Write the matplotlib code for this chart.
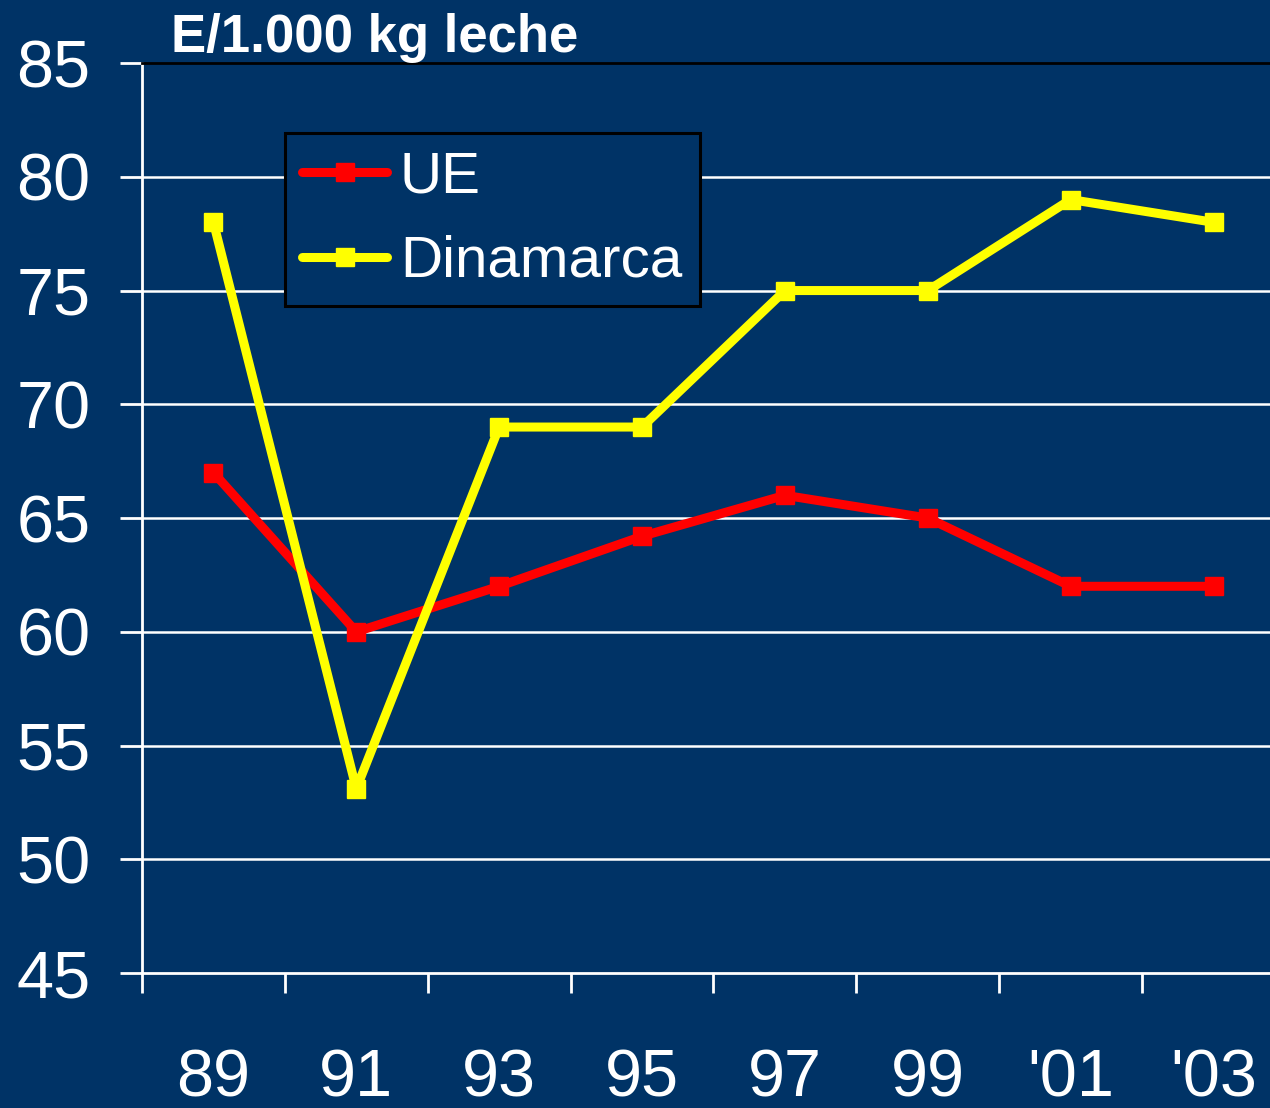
import matplotlib.pyplot as plt
import numpy as np

plt.rcParams['font.family'] = ['Liberation Sans', 'DejaVu Sans']

years = ["89", "91", "93", "95", "97", "99", "'01", "'03"]
ue = [67, 60, 62, 64.2, 66, 65, 62, 62]
dinamarca = [78, 53.1, 69, 69, 75, 75, 79, 78]

bg = "#003366"

fig = plt.figure(figsize=(12.7, 11.08), dpi=100, facecolor=bg)
ax = fig.add_axes([0.1118, 0.1218, 0.9000, 0.8213], facecolor=bg)

x = np.arange(len(years))
ax.plot(x, ue, color="#ff0000", lw=6.5, marker="s", ms=13, label="UE", solid_capstyle="round")
ax.plot(x, dinamarca, color="#ffff00", lw=6.5, marker="s", ms=13, label="Dinamarca", solid_capstyle="round")

ax.set_xlim(-0.5, len(years) - 0.5)
ax.set_ylim(45, 85)
ax.set_yticks(range(45, 86, 5))
for v in range(50, 85, 5):
    ax.axhline(v, color="white", lw=1.8, zorder=0)

ax.set_xticks(x)
ax.set_xticklabels(years)
ax.set_xticks(np.arange(-0.5, len(years), 1), minor=True)
ax.tick_params(axis="x", which="major", length=0, pad=54, labelsize=48, colors="white")
ax.tick_params(axis="x", which="minor", length=14.5, width=2, color="white", direction="out")
ax.tick_params(axis="y", length=16, width=2, color="white", labelsize=48, labelcolor="white", pad=21)

ax.spines["left"].set_color("white")
ax.spines["left"].set_linewidth(2)
ax.spines["bottom"].set_color("white")
ax.spines["bottom"].set_linewidth(2)
ax.spines["top"].set_color("black")
ax.spines["top"].set_linewidth(2)
ax.spines["right"].set_visible(False)

fig.text(0.135, 0.953, "E/1.000 kg leche", color="white", fontsize=38, fontweight="bold",
         ha="left", va="baseline")

leg = ax.legend(loc="upper left", bbox_to_anchor=(0.125, 0.923), borderaxespad=0, fontsize=42,
                frameon=True, fancybox=False, facecolor=bg, edgecolor="black", framealpha=1,
                handlelength=1.45, handletextpad=0.22, borderpad=0.3, labelspacing=0.52)
leg.get_frame().set_linewidth(2.2)
for t in leg.get_texts():
    t.set_color("white")

fig.savefig("out.png", dpi=100, facecolor=bg)
